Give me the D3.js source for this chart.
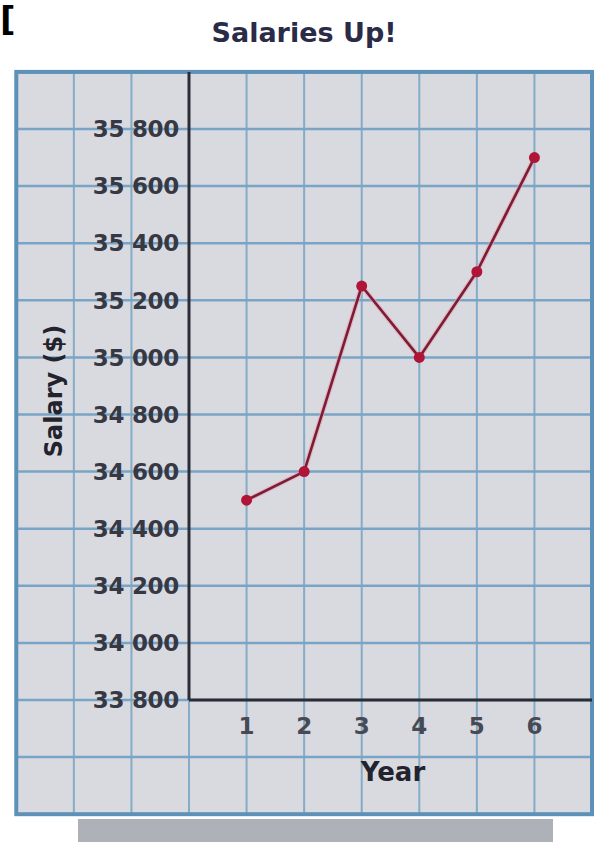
<!DOCTYPE html>
<html>
<head>
<meta charset="utf-8">
<script src="https://cdn.jsdelivr.net/npm/d3@7"></script>
<style>
  html, body { margin: 0; padding: 0; background: #fff; }
  svg { display: block; }
</style>
</head>
<body>
<svg id="chart"></svg>
<script>
// data
const years = [1, 2, 3, 4, 5, 6]
const salaries = [34500, 34600, 35250, 35000, 35300, 35700]
const yTicks = [33800, 34000, 34200, 34400, 34600, 34800, 35000, 35200, 35400, 35600, 35800]
const title = 'Salaries Up!'
const xTitle = 'Year'
const yTitle = 'Salary ($)'

const width = 599
const height = 842

const svg = d3.select('#chart').attr('width', width).attr('height', height)

// year 0 sits on the y axis, the paper grid carries on both sides
const x = d3.scaleLinear().domain([0, 7]).range([189, 592])
const y = d3.scaleLinear().domain([33800, 35800]).range([700, 129])

const gridX = d3.range(-3, 8)
const gridY = d3.range(33400, 36001, 200)

// shadow strip under the paper
svg.append('rect')
    .attr('x', 78).attr('y', 819)
    .attr('width', 475).attr('height', 23)
    .attr('fill', '#aeb1b8')

// the graph paper
svg.append('rect')
    .attr('x', x(-3)).attr('y', y(36000))
    .attr('width', x(7) - x(-3)).attr('height', y(33400) - y(36000))
    .attr('fill', '#d9dae0')

const grid = svg.append('g').attr('class', 'grid')
grid.selectAll('line.v').data(gridX).enter().append('line')
    .attr('class', 'v')
    .attr('x1', d => x(d)).attr('x2', d => x(d))
    .attr('y1', y(36000)).attr('y2', y(33400))
    .attr('stroke', '#84abc8').attr('stroke-width', 2)
grid.selectAll('line.h').data(gridY).enter().append('line')
    .attr('class', 'h')
    .attr('y1', d => y(d)).attr('y2', d => y(d))
    .attr('x1', x(-3)).attr('x2', x(7))
    .attr('stroke', '#7aa4c5').attr('stroke-width', 2.5)

// paper border
svg.append('rect')
    .attr('x', x(-3)).attr('y', y(36000))
    .attr('width', x(7) - x(-3)).attr('height', y(33400) - y(36000))
    .attr('fill', 'none')
    .attr('stroke', '#5e91b8').attr('stroke-width', 4)

// axes, drawn by hand like on the paper
svg.append('line')
    .attr('x1', x(0)).attr('x2', x(0))
    .attr('y1', y(36000)).attr('y2', y(33800))
    .attr('stroke', '#2c2c36').attr('stroke-width', 3)
svg.append('line')
    .attr('x1', x(0)).attr('x2', x(7))
    .attr('y1', y(33800)).attr('y2', y(33800))
    .attr('stroke', '#2c2c36').attr('stroke-width', 3)

// tick labels, space as thousands separator
const fmt = d => {
    const s = String(d)
    return s.slice(0, 2) + ' ' + s.slice(2)
}

svg.append('g').selectAll('text').data(yTicks).enter().append('text')
    .attr('x', 179)
    .attr('y', d => y(d))
    .attr('dy', '0.36em')
    .attr('text-anchor', 'end')
    .attr('font-family', 'DejaVu Sans').attr('font-weight', 'bold')
    .attr('font-size', 23)
    .attr('fill', '#363844')
    .attr('letter-spacing', -0.3)
    .text(fmt)

svg.append('g').selectAll('text').data(years).enter().append('text')
    .attr('x', d => x(d))
    .attr('y', 734)
    .attr('text-anchor', 'middle')
    .attr('font-family', 'DejaVu Sans').attr('font-weight', 'bold')
    .attr('font-size', 23)
    .attr('fill', '#474953')
    .text(d => d)

// titles
svg.append('text')
    .attr('x', 304).attr('y', 42)
    .attr('text-anchor', 'middle')
    .attr('font-family', 'DejaVu Sans').attr('font-weight', 'bold')
    .attr('font-size', 27)
    .attr('fill', '#2b2b48')
    .text(title)

svg.append('text')
    .attr('x', 393).attr('y', 781)
    .attr('text-anchor', 'middle')
    .attr('font-family', 'DejaVu Sans').attr('font-weight', 'bold')
    .attr('font-size', 26)
    .attr('fill', '#22232c')
    .text(xTitle)

svg.append('text')
    .attr('transform', 'translate(62,391) rotate(-90)')
    .attr('text-anchor', 'middle')
    .attr('font-family', 'DejaVu Sans').attr('font-weight', 'bold')
    .attr('font-size', 24)
    .attr('fill', '#22232c')
    .text(yTitle)

// stray bracket in the top corner of the scan
svg.append('text')
    .attr('x', 0).attr('y', 31)
    .attr('font-family', 'DejaVu Sans').attr('font-weight', 'bold')
    .attr('font-size', 34)
    .attr('fill', '#000')
    .text('[')

// the series
const points = years.map((d, i) => ({ year: d, salary: salaries[i] }))

const line = d3.line()
    .x(d => x(d.year))
    .y(d => y(d.salary))

svg.append('path')
    .datum(points)
    .attr('fill', 'none')
    .attr('stroke', '#e6a3b3')
    .attr('stroke-width', 5)
    .attr('stroke-linejoin', 'round')
    .attr('opacity', 0.6)
    .attr('d', line)

svg.append('path')
    .datum(points)
    .attr('fill', 'none')
    .attr('stroke', '#7c1d35')
    .attr('stroke-width', 2.6)
    .attr('stroke-linejoin', 'round')
    .attr('d', line)

svg.append('g').selectAll('circle').data(points).enter().append('circle')
    .attr('cx', d => x(d.year))
    .attr('cy', d => y(d.salary))
    .attr('r', 5.5)
    .attr('fill', '#b01538')
</script>
</body>
</html>
